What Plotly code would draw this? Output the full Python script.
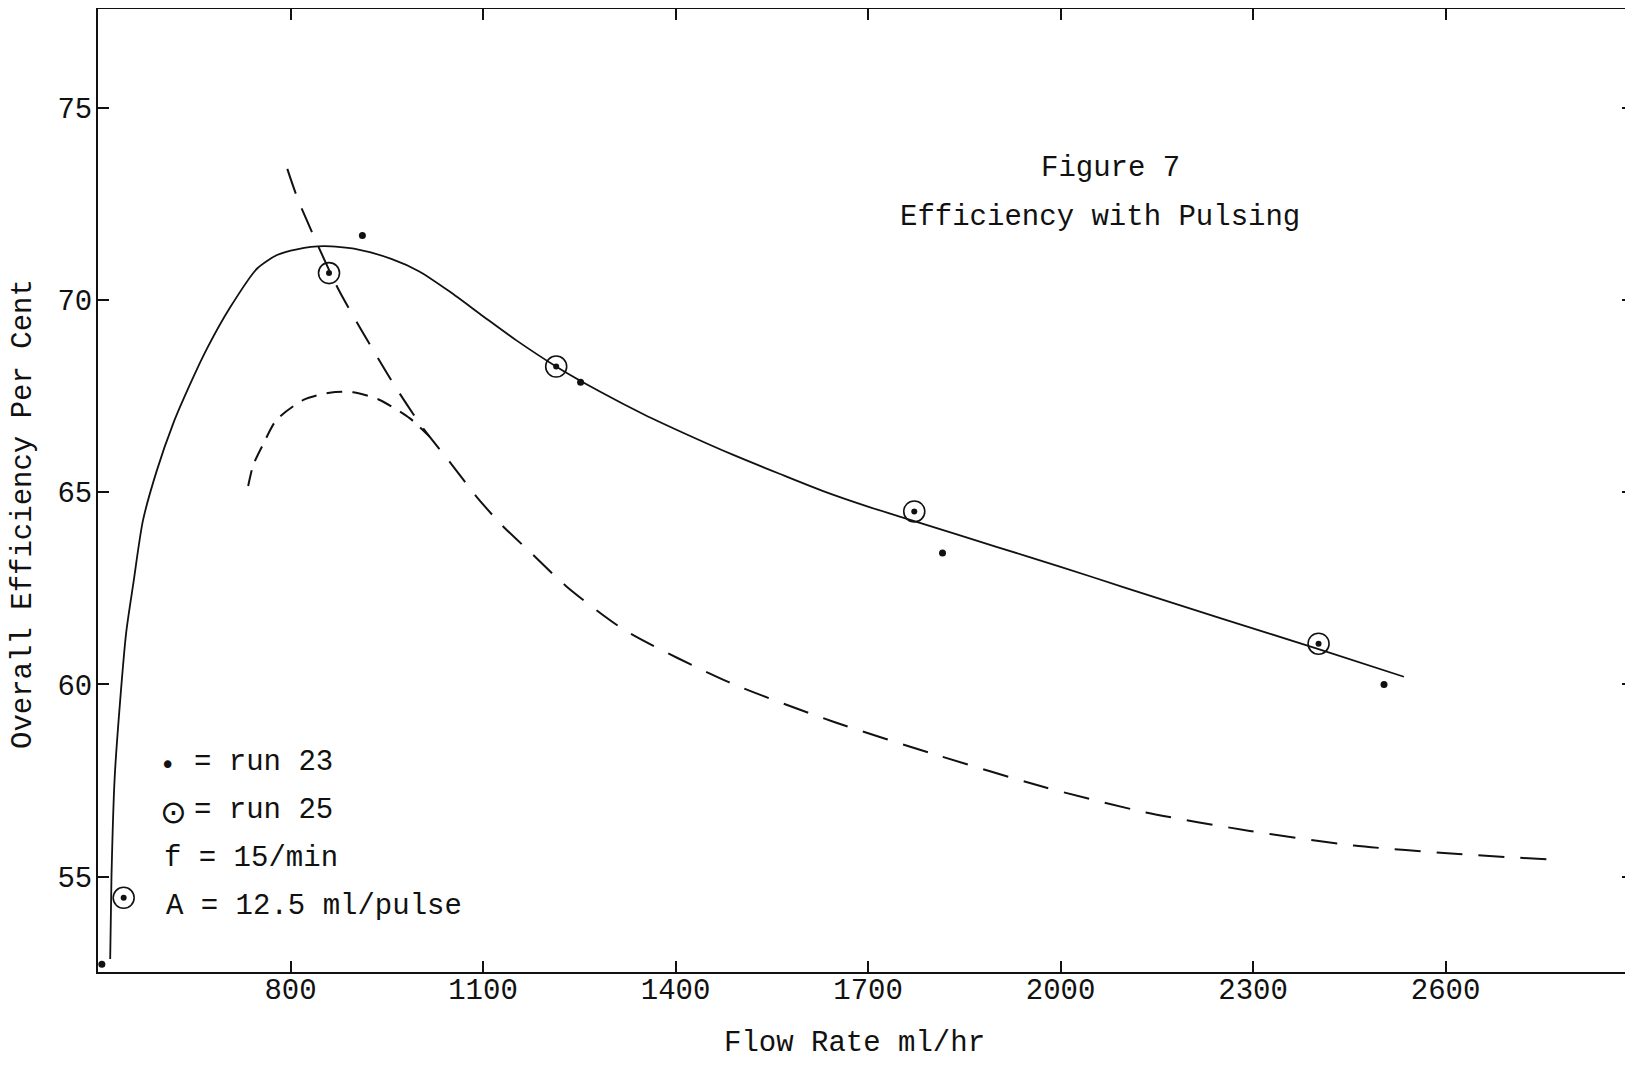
import plotly.graph_objects as go

# Pontos (vazão ml/hr x eficiência %)
run23_x = [506, 912, 1252, 1816, 2504]
run23_y = [52.72, 71.68, 67.86, 63.42, 60.0]

run25_x = [540, 860, 1214, 1772, 2402]
run25_y = [54.45, 70.70, 68.27, 64.50, 61.06]

# curva cheia (ajuste a mão)
cheia_x = [519, 521, 526, 534, 544, 555, 570, 591, 617, 643, 670, 706, 748, 779, 810,
           852, 904, 957, 1000, 1048, 1100, 1152, 1215, 1282, 1350, 1422, 1490, 1562,
           1630, 1701, 1772, 1900, 2000, 2100, 2250, 2402, 2535]
cheia_y = [52.86, 55.0, 57.58, 59.47, 61.36, 62.62, 64.26, 65.53, 66.78, 67.79, 68.74,
           69.81, 70.82, 71.17, 71.32, 71.40, 71.32, 71.07, 70.75, 70.22, 69.58, 68.95,
           68.26, 67.62, 67.03, 66.47, 65.97, 65.48, 65.03, 64.62, 64.25, 63.58, 63.06,
           62.52, 61.72, 60.92, 60.2]

# curva tracejada (descida íngreme + cauda)
trac_x = [795, 812, 874, 952, 970, 1005, 1048, 1090, 1129, 1173, 1230, 1321, 1483,
          1646, 1808, 1970, 2133, 2295, 2457, 2620, 2757]
trac_y = [73.41, 72.6, 70.30, 68.05, 67.57, 66.70, 65.79, 64.88, 64.15, 63.45, 62.55,
          61.41, 60.06, 59.03, 58.16, 57.35, 56.67, 56.19, 55.81, 55.59, 55.45]

# curva tracejada em arco
arco_x = [734, 742, 758, 778, 820, 861, 898, 939, 986, 1017]
arco_y = [65.16, 65.71, 66.27, 66.88, 67.40, 67.59, 67.60, 67.40, 66.92, 66.44]

x_ticks = [800, 1100, 1400, 1700, 2000, 2300, 2600]
y_ticks = [55, 60, 65, 70, 75]

FONTE = "Liberation Mono, Courier New, monospace"
PRETO = "#111111"
TAM = 29

fig = go.Figure()

fig.add_trace(go.Scatter(x=cheia_x, y=cheia_y, mode="lines",
                         line=dict(color=PRETO, width=1.8, shape="spline", smoothing=0.7)))
fig.add_trace(go.Scatter(x=trac_x, y=trac_y, mode="lines",
                         line=dict(color=PRETO, width=2, dash="26px,16px",
                                   shape="spline", smoothing=0.7)))
fig.add_trace(go.Scatter(x=arco_x, y=arco_y, mode="lines",
                         line=dict(color=PRETO, width=2, dash="16px,10px",
                                   shape="spline", smoothing=0.7)))

# run 25: circulo com ponto no centro
fig.add_trace(go.Scatter(x=run25_x, y=run25_y, mode="markers",
                         marker=dict(symbol="circle-open", size=21, color=PRETO,
                                     line=dict(width=1.6, color=PRETO))))
fig.add_trace(go.Scatter(x=run25_x, y=run25_y, mode="markers",
                         marker=dict(symbol="circle", size=6, color=PRETO)))
# run 23: ponto
fig.add_trace(go.Scatter(x=run23_x, y=run23_y, mode="markers",
                         marker=dict(symbol="circle", size=7, color=PRETO)))

eixo = dict(showline=True, linecolor=PRETO, linewidth=2, mirror="ticks",
            ticks="inside", ticklen=11, tickwidth=2, tickcolor=PRETO,
            showgrid=False, zeroline=False, automargin=False,
            tickfont=dict(family=FONTE, size=TAM, color=PRETO))

fig.update_xaxes(range=[500, 2892], tickvals=x_ticks, ticklabelstandoff=-10, **eixo)
fig.update_yaxes(range=[52.52, 77.57], tickvals=y_ticks, ticklabelstandoff=-2, **eixo)


# posições em pixels da imagem -> coordenadas "paper" da área do gráfico
def px_x(p):
    return (p - 98) / 1535


def px_y(p):
    return (972 - p) / 963


textos = [
    # texto, x, y, âncora
    ("Figure 7", 1110, 168, "center"),
    ("Efficiency with Pulsing", 1100, 217, "center"),
    ("Flow Rate ml/hr", 854, 1043, "center"),
    ("= run 23", 192, 762, "left"),
    ("= run 25", 192, 810, "left"),
    ("f = 15/min", 162, 858, "left"),
    ("A = 12.5 ml/pulse", 164, 906, "left"),
]
anotacoes = []
for txt, x, y, ancora in textos:
    anotacoes.append(dict(text=txt, x=px_x(x), y=px_y(y), xref="paper", yref="paper",
                          xanchor=ancora, yanchor="middle", showarrow=False,
                          font=dict(family=FONTE, size=TAM, color=PRETO)))

anotacoes.append(dict(text="Overall Efficiency Per Cent", x=px_x(23), y=px_y(514),
                      xref="paper", yref="paper", textangle=-90, showarrow=False,
                      xanchor="center", yanchor="middle",
                      font=dict(family=FONTE, size=TAM, color=PRETO)))

# símbolos da legenda
anotacoes.append(dict(text="•", x=px_x(167), y=px_y(765), xref="paper", yref="paper",
                      showarrow=False, xanchor="center", yanchor="middle",
                      font=dict(family="DejaVu Sans", size=26, color=PRETO)))
anotacoes.append(dict(text="⊙", x=px_x(173), y=px_y(812), xref="paper", yref="paper",
                      showarrow=False, xanchor="center", yanchor="middle",
                      font=dict(family="DejaVu Sans", size=32, color=PRETO)))

# a página tem 8px de margem no body: figura menor (sem barra de rolagem)
fig.update_layout(
    width=1625,
    height=1053,
    margin=dict(l=90, r=0, t=1, b=89),
    paper_bgcolor="white",
    plot_bgcolor="white",
    showlegend=False,
    annotations=anotacoes,
)

fig.write_html("out.html")
